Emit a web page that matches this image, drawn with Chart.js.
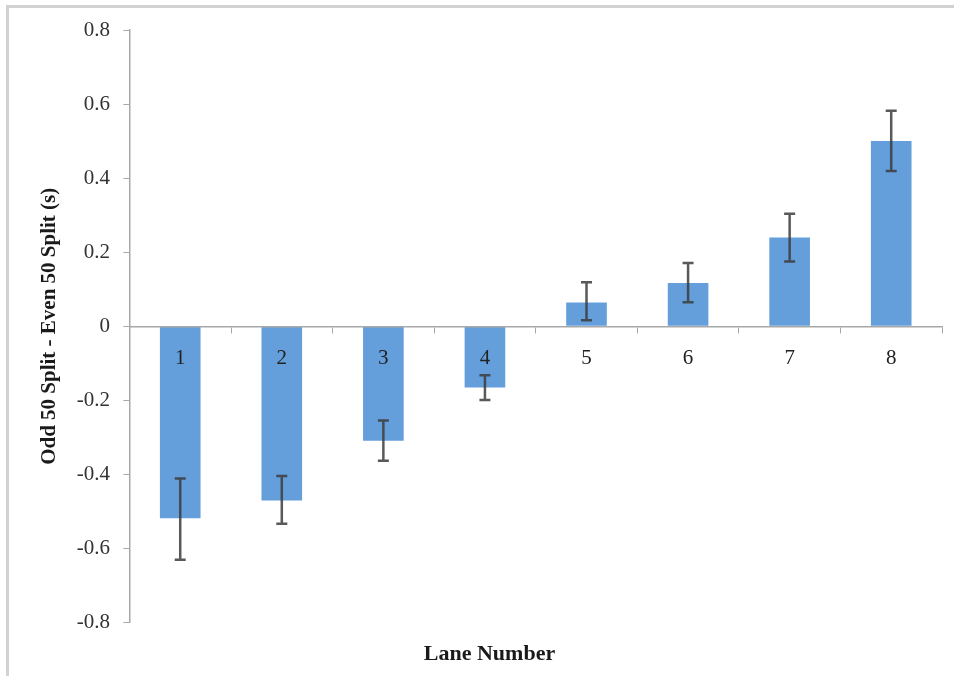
<!DOCTYPE html>
<html>
<head>
<meta charset="utf-8">
<script src="https://cdn.jsdelivr.net/npm/chart.js@4"></script>
<style>
    html, body { margin: 0; padding: 0; background: #fff; }
    #wrap { width: 954px; height: 676px; }
</style>
</head>
<body>
<div id="wrap"><canvas id="myChart" width="954" height="676"></canvas></div>
<script>
// lane numbers and mean split difference (odd 50 - even 50), seconds
let laneLabels = ["1", "2", "3", "4", "5", "6", "7", "8"];
let splitDiff = [-0.518, -0.47, -0.309, -0.165, 0.064, 0.117, 0.24, 0.5];
// error bar half-lengths
let errUp = [0.107, 0.066, 0.055, 0.033, 0.055, 0.054, 0.064, 0.082];
let errDown = [0.112, 0.063, 0.054, 0.034, 0.048, 0.052, 0.065, 0.081];
let yTicks = [-0.8, -0.6, -0.4, -0.2, 0, 0.2, 0.4, 0.6, 0.8];

const serif = "'Liberation Serif', 'Times New Roman', serif";

// frame lines on top and left like the original export
const framePlugin = {
    id: "frame",
    beforeDraw(chart) {
        let c = chart.ctx;
        c.save();
        c.fillStyle = "#d2d2d2";
        c.fillRect(6, 5, chart.width - 6, 3);
        c.fillRect(6, 5, 3, chart.height - 5);
        c.restore();
    }
};

const errorBars = {
    id: "errorBars",
    afterDatasetsDraw(chart) {
        let c = chart.ctx;
        let yScale = chart.scales.y;
        let meta = chart.getDatasetMeta(0);
        c.save();
        c.strokeStyle = "rgba(60, 60, 60, 0.85)";
        c.lineWidth = 2.5;
        meta.data.forEach((bar, i) => {
            let v = splitDiff[i];
            let top = yScale.getPixelForValue(v + errUp[i]);
            let bot = yScale.getPixelForValue(v - errDown[i]);
            let x = bar.x;
            c.beginPath();
            c.moveTo(x, top);
            c.lineTo(x, bot);
            c.moveTo(x - 5.5, top);
            c.lineTo(x + 5.5, top);
            c.moveTo(x - 5.5, bot);
            c.lineTo(x + 5.5, bot);
            c.stroke();
        });
        c.restore();
    }
};

var ctx = document.getElementById("myChart").getContext("2d");
var myChart = new Chart(ctx, {
    type: "bar",
    data: {
        labels: laneLabels,
        datasets: [{
            label: "Odd 50 Split - Even 50 Split (s)",
            data: splitDiff,
            backgroundColor: "#649fdc",
            borderWidth: 0,
            categoryPercentage: 1,
            barPercentage: 0.4,
        }, ],
    },
    options: {
        responsive: false,
        animation: false,
        layout: {
            padding: { left: 37, right: 12, top: 30, bottom: 8 }
        },
        plugins: {
            legend: { display: false },
            tooltip: { enabled: false },
            title: {
                display: true,
                position: "bottom",
                text: "Lane Number",
                color: "#1a1a1a",
                font: { family: serif, size: 22, weight: "bold" },
                padding: { top: 19, bottom: 0 }
            }
        },
        scales: {
            x: {
                position: { y: 0 },
                grid: {
                    drawOnChartArea: false,
                    drawTicks: true,
                    tickLength: 6,
                    color: "#a8a8a8",
                    offset: true,
                    z: 1
                },
                border: { color: "#a8a8a8", width: 1.5, z: 1 },
                ticks: {
                    z: 2,
                    color: "#222",
                    padding: 14,
                    font: { family: serif, size: 21 }
                }
            },
            y: {
                min: -0.8,
                max: 0.8,
                afterBuildTicks: (axis) => {
                    axis.ticks = yTicks.map(v => ({ value: v }));
                },
                grid: {
                    drawOnChartArea: false,
                    tickLength: 6,
                    color: "#a8a8a8"
                },
                border: { color: "#a8a8a8", width: 1.5 },
                ticks: {
                    color: "#333",
                    padding: 13.5,
                    font: { family: serif, size: 21 },
                    callback: (v) => (Math.round(v * 10) / 10).toString()
                },
                title: {
                    display: true,
                    text: "Odd 50 Split - Even 50 Split (s)",
                    color: "#1a1a1a",
                    font: { family: serif, size: 21, weight: "bold" },
                    padding: { top: 0, bottom: 1 }
                }
            }
        }
    },
    plugins: [framePlugin, errorBars]
});
</script>
</body>
</html>
